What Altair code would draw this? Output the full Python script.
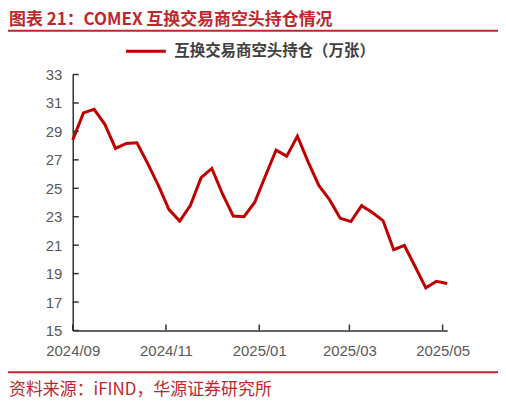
import altair as alt
import pandas as pd

title_text = "图表 21：COMEX 互换交易商空头持仓情况"
source_text = "资料来源：iFIND，华源证券研究所"
series_name = "互换交易商空头持仓（万张）"

dates = pd.date_range("2024-09-01", periods=36, freq="7D").strftime("%Y-%m-%d").tolist()
values = [28.4, 30.3, 30.55, 29.5, 27.8, 28.15, 28.2, 26.75, 25.2, 23.5,
          22.7, 23.8, 25.75, 26.4, 24.6, 23.05, 23.0, 24.0, 25.85, 27.68,
          27.26, 28.66, 26.86, 25.2, 24.2, 22.9, 22.66, 23.78, 23.3, 22.73,
          20.68, 20.98, 19.5, 18.0, 18.46, 18.3]
y_ticks = [15, 17, 19, 21, 23, 25, 27, 29, 31, 33]
x_ticks = ["2024-09-01", "2024-11-01", "2025-01-01", "2025-03-01", "2025-05-01"]

W, H = 376, 257
RED = "#C00000"
TRED = "#C0272D"

df = pd.DataFrame({"date": dates, "value": values, "series": series_name})

xscale = alt.Scale(type="utc", domain=["2024-09-01", "2025-05-04"])
yscale = alt.Scale(domain=[15, 33], nice=False, zero=False)

xaxis = alt.Axis(values=[alt.DateTime(year=int(d[:4]), month=int(d[5:7]), date=1, utc=True) for d in x_ticks],
                 labelExpr="utcFormat(datum.value, '%Y/%m')",
                 title=None, ticks=False, tickSize=0, grid=False,
                 labelPadding=13, labelFontSize=15, labelFont="Liberation Sans",
                 labelColor="#595959", domainColor="#333333", domainWidth=1.5,
                 labelFlush=False, labelOverlap=False)
yaxis = alt.Axis(values=y_ticks, title=None, ticks=False, tickSize=0, grid=False,
                 labelPadding=11, labelFontSize=15, labelFont="Liberation Sans",
                 labelColor="#595959", domainColor="#333333", domainWidth=1.5,
                 labelOverlap=False, labelFlush=False)

line = alt.Chart(df).mark_line(strokeWidth=3, strokeJoin="miter").encode(
    x=alt.X("date:T", scale=xscale, axis=xaxis),
    y=alt.Y("value:Q", scale=yscale, axis=yaxis),
    color=alt.Color("series:N", scale=alt.Scale(range=[RED]),
                    legend=alt.Legend(title=None, orient="none", legendX=52, legendY=-45,
                                      symbolType="stroke", symbolSize=1600, symbolStrokeWidth=3,
                                      labelFontSize=15.5, labelFontWeight="bold",
                                      labelFont="Noto Sans CJK SC", labelColor="#404040",
                                      labelOffset=7, labelLimit=400))
)

ytick_df = pd.DataFrame({"v": y_ticks})
yt = alt.Chart(ytick_df).mark_rule(color="#333333", strokeWidth=1.5).encode(
    y=alt.Y("v:Q", scale=yscale, axis=yaxis), x=alt.value(0), x2=alt.value(6))

xtick_df = pd.DataFrame({"d": x_ticks})
xt = alt.Chart(xtick_df).mark_rule(color="#333333", strokeWidth=1.5).encode(
    x=alt.X("d:T", scale=xscale, axis=xaxis), y=alt.value(H), y2=alt.value(H - 6))

tdf = pd.DataFrame({"t": [title_text]})
title = alt.Chart(tdf).mark_text(align="left", baseline="middle", fontSize=17, fontWeight="bold",
                                 font="Noto Sans CJK SC", color=TRED).encode(
    text="t:N", x=alt.value(-64), y=alt.value(-55))

sdf = pd.DataFrame({"t": [source_text]})
source = alt.Chart(sdf).mark_text(align="left", baseline="middle", fontSize=17,
                                  font="Noto Sans CJK SC", color=TRED).encode(
    text="t:N", x=alt.value(-64), y=alt.value(317))

ldf = pd.DataFrame({"a": [0]})
topline = alt.Chart(ldf).mark_rule(color=TRED, strokeWidth=2).encode(
    x=alt.value(-65), x2=alt.value(427), y=alt.value(-44))
botline = alt.Chart(ldf).mark_rule(color=TRED, strokeWidth=2).encode(
    x=alt.value(-65), x2=alt.value(427), y=alt.value(299))

chart = alt.layer(line, yt, xt, title, source, topline, botline).properties(
    width=W, height=H,
    autosize=alt.AutoSizeParams(type="none"),
    padding={"left": 65, "top": 66, "right": 51, "bottom": 73},
).configure_view(stroke=None).resolve_scale(color="independent")

chart.save("out.html", embed_options={"renderer": "svg", "actions": False})
